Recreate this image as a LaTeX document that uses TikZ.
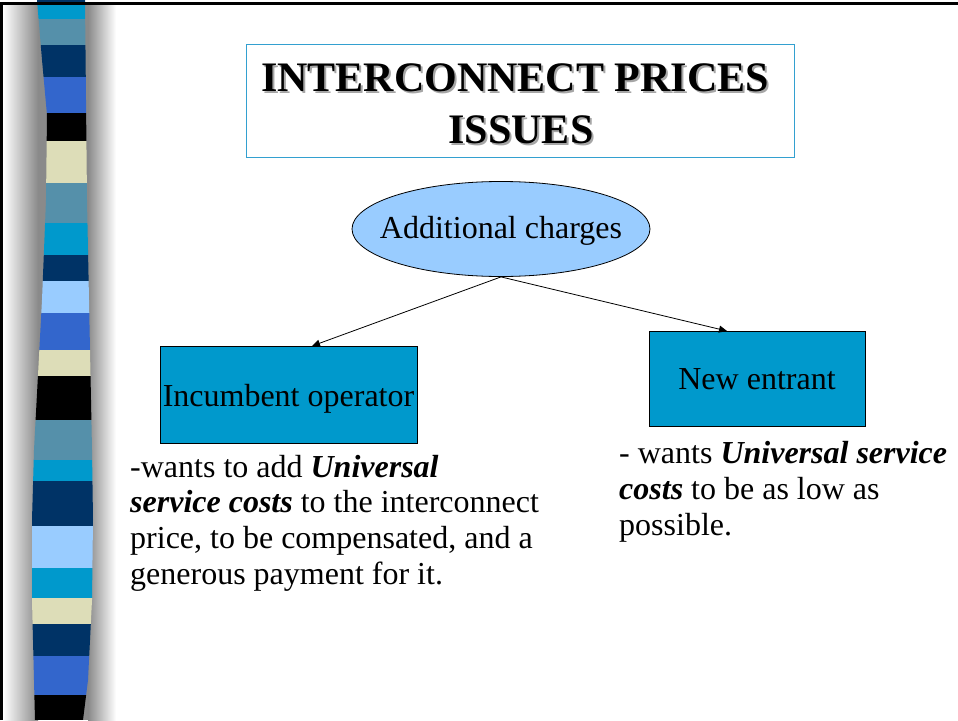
\documentclass[tikz,border=0pt]{standalone}
\usepackage{fontspec}
\setmainfont{Liberation Serif}
\usetikzlibrary{shapes.geometric,arrows.meta,calc}
\definecolor{cyanb}{HTML}{0099CC}
\definecolor{steelb}{HTML}{5590AA}
\definecolor{navyb}{HTML}{003366}
\definecolor{royalb}{HTML}{3366CC}
\definecolor{beigeb}{HTML}{DDDDB8}
\definecolor{lightb}{HTML}{99CCFF}
\definecolor{titleline}{HTML}{33A0D0}
\definecolor{bandgray}{HTML}{8A8A8A}
\newcommand{\shadowtxt}[1]{\makebox[0pt][l]{\hspace{2pt}\raisebox{-2pt}{\textcolor{black!35}{#1}}}#1}
\tikzset{
  bodytext/.style={anchor=base west,inner sep=0pt,font=\fontsize{32}{35.5}\selectfont},
  boxtext/.style={anchor=base,inner sep=0pt,font=\fontsize{32}{35.5}\selectfont},
  titletext/.style={anchor=base,inner sep=0pt,font=\fontsize{42}{52}\selectfont\bfseries},
  actorbox/.style={draw=black,line width=0.8pt,fill=cyanb},
  arrowline/.style={line width=0.8pt,-{Triangle[length=8pt,width=7pt]}}
}
\begin{document}
\begin{tikzpicture}[x=1pt,y=-1pt]
\useasboundingbox (0,0) rectangle (958,720);
\fill[white] (0,0) rectangle (958,720);
% shaded band
\shade[left color=white,right color=bandgray] (3,5) rectangle (38,720);
\fill[bandgray] (38,5) rectangle (88,720);
\shade[left color=bandgray,right color=white] (88,5) rectangle (116,720);
% stripes
\begin{scope}
\clip (37,0) -- (42,60) -- (47,115) -- (46,200) -- (42,300) -- (34,450) -- (32,520) -- (32,600) -- (34,680) -- (35,720)
      -- (83,720) -- (88,680) -- (92,600) -- (93,520) -- (92,450) -- (89,300) -- (87,200) -- (86,100) -- (85,0) -- cycle;
\fill[navyb] (0,0) rectangle (120,5);
\fill[cyanb] (0,5) rectangle (120,19);
\fill[steelb] (0,19) rectangle (120,45);
\fill[navyb] (0,45) rectangle (120,77);
\fill[royalb] (0,77) rectangle (120,113);
\fill[black] (0,113) rectangle (120,141);
\fill[beigeb] (0,141) rectangle (120,183);
\fill[steelb] (0,183) rectangle (120,223);
\fill[cyanb] (0,223) rectangle (120,255);
\fill[navyb] (0,255) rectangle (120,281);
\fill[lightb] (0,281) rectangle (120,313);
\fill[royalb] (0,313) rectangle (120,350);
\fill[beigeb] (0,350) rectangle (120,376);
\fill[black] (0,376) rectangle (120,420);
\fill[steelb] (0,420) rectangle (120,460);
\fill[cyanb] (0,460) rectangle (120,481);
\fill[navyb] (0,481) rectangle (120,526);
\fill[lightb] (0,526) rectangle (120,568);
\fill[cyanb] (0,568) rectangle (120,598);
\fill[beigeb] (0,598) rectangle (120,624);
\fill[navyb] (0,624) rectangle (120,656);
\fill[royalb] (0,656) rectangle (120,695);
\fill[black] (0,695) rectangle (120,720);
\end{scope}
% frame
\draw[line width=3pt] (1.5,720) -- (1.5,3.5) -- (958,3.5);
% title
\draw[titleline,line width=0.8pt] (246,44) rectangle (794,157);
\node[titletext] (t1) at (515,91) {\shadowtxt{INTERCONNECT PRICES}};
\node[titletext] (t2) at (521,143) {\shadowtxt{ISSUES}};
% ellipse
\node[ellipse,draw=black,line width=0.8pt,fill=lightb,minimum width=298pt,minimum height=95pt,inner sep=0pt] (ac) at (501,229) {};
\node[boxtext] (actext) at (501,238) {Additional charges};
% boxes
\path[actorbox] (160,346) rectangle (417,443);
\coordinate (lboxtop) at (312,346);
\node[boxtext] (lbtext) at (288.5,406) {Incumbent operator};
\path[actorbox] (649,331) rectangle (865,426);
\coordinate (rboxtop) at (727,331);
\node[boxtext] (rbtext) at (757,389) {New entrant};
% arrows
\draw[arrowline] (ac.south) -- (lboxtop);
\draw[arrowline] (ac.south) -- (rboxtop);
% left body text
\node[bodytext] (l1) at (130,477) {-wants to add \textbf{\textit{Universal}}};
\node[bodytext] (l2) at (130,512) {\textbf{\textit{service costs}} to the interconnect};
\node[bodytext] (l3) at (130,548) {price, to be compensated, and a};
\node[bodytext] (l4) at (130,584) {generous payment for it.};
% right body text
\node[bodytext] (r1) at (619,463) {- wants \textbf{\textit{Universal service}}};
\node[bodytext] (r2) at (619,499) {\textbf{\textit{costs}} to be as low as};
\node[bodytext] (r3) at (619,535) {possible.};
\end{tikzpicture}
\end{document}
